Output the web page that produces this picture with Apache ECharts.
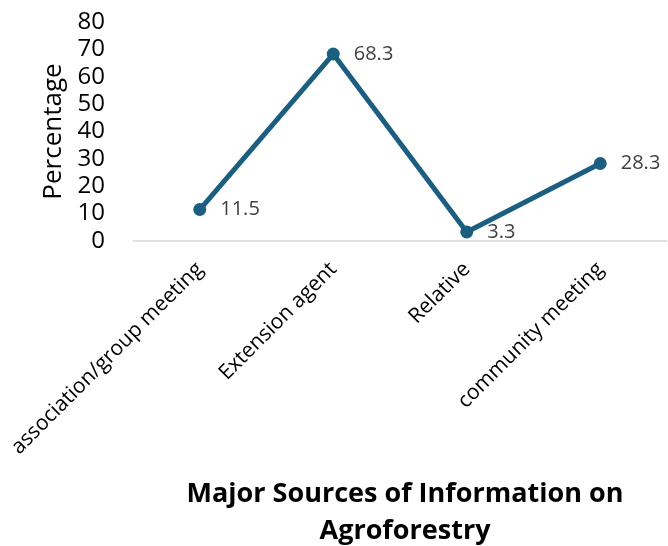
<!DOCTYPE html>
<html>
<head>
<meta charset="utf-8">
<script src="https://cdn.jsdelivr.net/npm/echarts@6/dist/echarts.min.js"></script>
<style>html,body{margin:0;padding:0;background:#fff;}#c{width:668px;height:546px;}</style>
</head>
<body>
<div id="c"></div>
<script>
const categories = ['association/group meeting', 'Extension agent', 'Relative', 'community meeting'];
const values = [11.5, 68.3, 3.3, 28.3];
const yTicks = [0, 10, 20, 30, 40, 50, 60, 70, 80];
const FONT = 'Open Sans';
const chart = echarts.init(document.getElementById('c'), null, {renderer: 'canvas'});
chart.setOption({
  animation: false,
  backgroundColor: '#ffffff',
  title: {
    text: 'Major Sources of Information on\nAgroforestry',
    left: 400, top: 471, textAlign: 'center',
    textStyle: {fontFamily: FONT, fontSize: 27, fontWeight: 'bold', color: '#000', lineHeight: 37}
  },
  grid: {left: 133, right: 1, top: 22, bottom: 305, containLabel: false},
  xAxis: {
    type: 'category', data: categories, boundaryGap: true,
    axisLine: {lineStyle: {color: '#d9d9d9', width: 1.5}},
    axisTick: {show: false},
    axisLabel: {rotate: 45, margin: 25, fontFamily: FONT, fontSize: 21, color: '#000', interval: 0}
  },
  yAxis: {
    type: 'value', min: yTicks[0], max: yTicks[yTicks.length - 1], interval: 10,
    name: 'Percentage', nameLocation: 'middle', nameGap: 66,
    nameTextStyle: {fontFamily: FONT, fontSize: 26, color: '#000'},
    axisLine: {show: false}, axisTick: {show: false}, splitLine: {show: false},
    axisLabel: {margin: 28, fontFamily: FONT, fontSize: 24, color: '#000'}
  },
  series: [{
    type: 'line', data: values,
    lineStyle: {color: '#1b5e80', width: 5},
    itemStyle: {color: '#1b5e80'},
    symbol: 'circle', symbolSize: 13,
    label: {show: true, position: 'right', distance: 14, fontFamily: FONT, fontSize: 20, color: '#404040'}
  }]
});
</script>
</body>
</html>
